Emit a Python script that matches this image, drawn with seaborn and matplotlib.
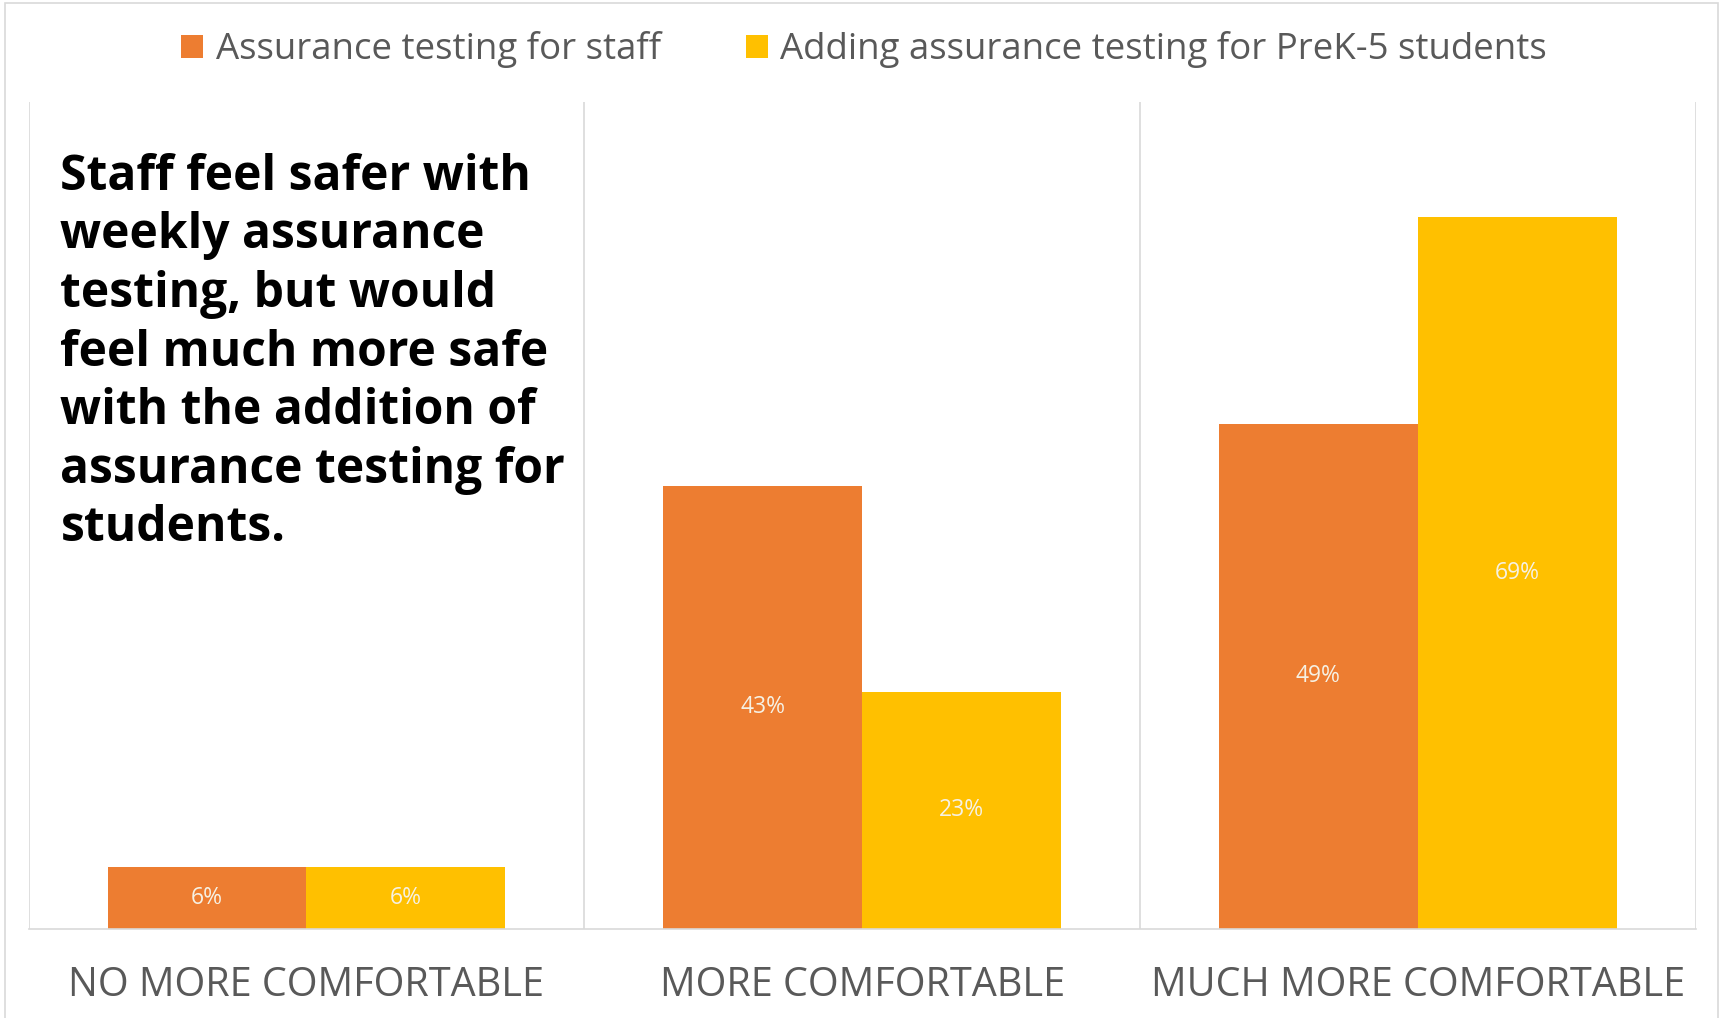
import matplotlib
matplotlib.use("Agg")
import matplotlib.pyplot as plt
import seaborn as sns
import pandas as pd
from matplotlib.patches import Rectangle, Patch

categories = ["NO MORE COMFORTABLE", "MORE COMFORTABLE", "MUCH MORE COMFORTABLE"]
series_names = ["Assurance testing for staff", "Adding assurance testing for PreK-5 students"]
staff_values = [6, 43, 49]
students_values = [6, 23, 69]
value_labels_staff = ["6%", "43%", "49%"]
value_labels_students = ["6%", "23%", "69%"]
title_text = ("Staff feel safer with\nweekly assurance\ntesting, but would\nfeel much more safe\n"
              "with the addition of\nassurance testing for\nstudents.")

colors = ["#ED7D31", "#FFC000"]

df = pd.DataFrame({
    "category": categories * 2,
    "series": [series_names[0]] * 3 + [series_names[1]] * 3,
    "value": staff_values + students_values,
})

sns.set_theme(style="white")
plt.rcParams['font.family'] = ['Open Sans', 'DejaVu Sans']

fig = plt.figure(figsize=(17.25, 10.18), dpi=100)
ax = fig.add_axes([0.0166, 0.0874, 0.9664, 0.8126])

sns.barplot(data=df, x="category", y="value", hue="series", order=categories,
            hue_order=series_names, palette=colors, width=0.716, saturation=1,
            ax=ax, legend=False, linewidth=0)

ax.set_ylim(0, 80.2)
ax.set_xlim(-0.5, 2.5)
ax.set_ylabel("")
ax.set_xlabel("")
ax.set_yticks([])
for s in ["top", "right", "left"]:
    ax.spines[s].set_visible(False)
ax.spines["bottom"].set_color("#d9d9d9")
ax.spines["bottom"].set_linewidth(1.2)
for xv in [-0.5, 0.5, 1.5, 2.5]:
    ax.axvline(xv, color="#d9d9d9", lw=1.2, zorder=0)

ax.tick_params(axis="x", length=0, pad=26.5, labelsize=28.5, labelcolor="#595959")

all_labels = [value_labels_staff, value_labels_students]
for container, labels in zip(ax.containers, all_labels):
    ax.bar_label(container, labels=labels, label_type="center", color="#f6f1e4",
                 fontsize=16.5)

handles = [Patch(facecolor=c, edgecolor="none") for c in colors]
fig.legend(handles, series_names, loc="center", bbox_to_anchor=(0.501, 0.951), ncol=2,
           frameon=False, fontsize=26.4, handlelength=0.6, handleheight=0.6,
           handletextpad=0.35, columnspacing=2.3, labelcolor="#595959")

fig.text(0.035, 0.850, title_text, ha="left", va="top", fontsize=34.6, fontweight="bold",
         color="black", linespacing=1.26)

fig.add_artist(Rectangle((0.003, -0.01), 0.993, 1.007, transform=fig.transFigure,
                         fill=False, edgecolor="#d9d9d9", lw=1.2))

fig.savefig("out.png", dpi=100)
